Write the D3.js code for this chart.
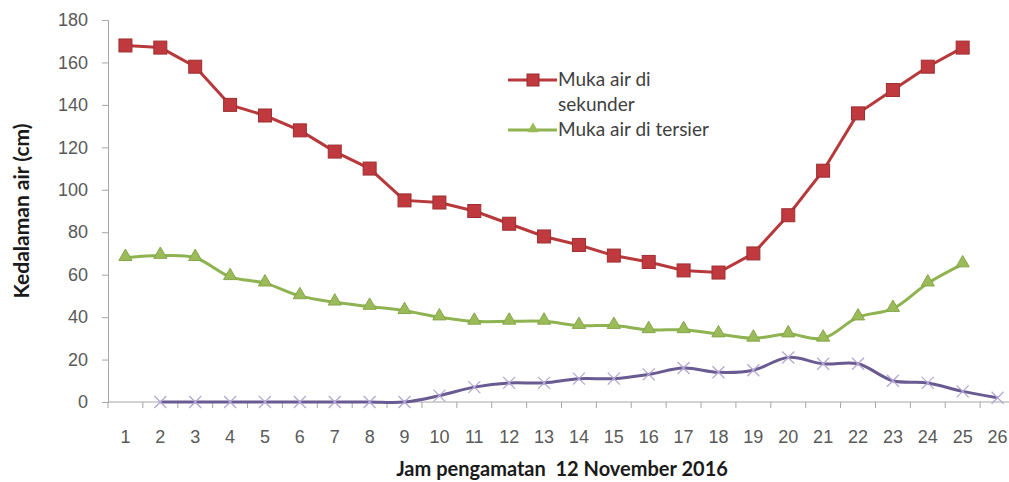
<!DOCTYPE html>
<html>
<head>
<meta charset="utf-8">
<script src="https://cdn.jsdelivr.net/npm/d3@7"></script>
<style>
body { margin: 0; background: #fff; }
svg { font-family: Lato, "Open Sans", sans-serif; }
</style>
</head>
<body>
<script>
'use strict';

var hours = d3.range(1, 27);
var sekunder = [168, 167, 158, 140, 135, 128, 118, 110, 95, 94, 90, 84, 78, 74, 69, 66, 62, 61, 70, 88, 109, 136, 147, 158, 167];
var tersier = [68, 69, 68, 59, 56, 50, 47, 45, 43, 40, 38, 38, 38, 36, 36, 34, 34, 32, 30, 32, 30, 40, 44, 56, 65];
// third series starts at hour 2
var ketiga = [null, 0, 0, 0, 0, 0, 0, 0, 0, 3, 7, 9, 9, 11, 11, 13, 16, 14, 15, 21, 18, 18, 10, 9, 5, 2];
var yTicks = [0, 20, 40, 60, 80, 100, 120, 140, 160, 180];

var W = 1009, H = 482;
var svg = d3.select('body').append('svg').attr('width', W).attr('height', H);

var x = d3.scaleBand().domain(hours).range([108, 1015]);
var y = d3.scaleLinear().domain([0, 180]).range([402, 20]);
var cx = d => x(d) + x.bandwidth() / 2;

// axes
var yAxis = svg.append('g').attr('transform', 'translate(108,0)')
	.call(d3.axisLeft(y).tickValues(yTicks).tickSize(6).tickPadding(14));
var xAxis = svg.append('g').attr('transform', 'translate(0,402)')
	.call(d3.axisBottom(x).tickSize(0).tickPadding(28));
[yAxis, xAxis].forEach(function(a) {
	a.select('.domain').attr('stroke', '#a6a6a6');
	a.selectAll('line').attr('stroke', '#a6a6a6');
	a.selectAll('text').attr('fill', '#595959').style('font-size', '18px');
});
xAxis.select('.domain').attr('d', 'M108,0H1015');
// x tick marks between categories
xAxis.selectAll('.sep').data(d3.range(0, 27))
	.enter().append('line')
	.attr('x1', i => 108 + i * x.step()).attr('x2', i => 108 + i * x.step())
	.attr('y1', 0).attr('y2', 6).attr('stroke', '#a6a6a6');

// axis titles
svg.append('text').attr('transform', 'translate(29,211) rotate(-90)')
	.attr('text-anchor', 'middle').style('font-size', '21px').style('font-weight', 'bold')
	.attr('fill', '#1a1a1a').text('Kedalaman air (cm)');
svg.append('text').attr('x', 562).attr('y', 476).attr('text-anchor', 'middle')
	.style('font-size', '20px').style('font-weight', 'bold').style('white-space', 'pre')
	.attr('fill', '#1a1a1a').text('Jam pengamatan  12 November 2016');

// lines
var redPts = sekunder.map((v, i) => [cx(hours[i]), y(v)]);
var greenPts = tersier.map((v, i) => [cx(hours[i]), y(v)]);
var purplePts = ketiga.map((v, i) => v === null ? null : [cx(hours[i]), y(v)]).filter(p => p);

svg.append('path').attr('d', d3.line().curve(d3.curveCatmullRom.alpha(0.5))(purplePts))
	.attr('fill', 'none').attr('stroke', '#6a5a92').attr('stroke-width', 3);
purplePts.forEach(function(p) {
	svg.append('path').attr('d', 'M-6,-6L6,6M-6,6L6,-6')
		.attr('transform', 'translate(' + p[0] + ',' + p[1] + ')')
		.attr('stroke', '#b3a8d6').attr('stroke-width', 1.3).attr('fill', 'none');
});

svg.append('path').attr('d', d3.line().curve(d3.curveCatmullRom.alpha(0.5))(greenPts))
	.attr('fill', 'none').attr('stroke', '#8eb350').attr('stroke-width', 3);
svg.selectAll('.tri').data(greenPts).enter().append('path')
	.attr('d', d3.symbol().type(d3.symbolTriangle).size(75))
	.attr('transform', d => 'translate(' + d[0] + ',' + (d[1] - 1) + ')')
	.attr('fill', '#9bbb59').attr('stroke', '#86a64a').attr('stroke-width', 1);

svg.append('path').attr('d', d3.line()(redPts))
	.attr('fill', 'none').attr('stroke', '#b8393b').attr('stroke-width', 3);
svg.selectAll('.sq').data(redPts).enter().append('rect')
	.attr('x', d => d[0] - 6.5).attr('y', d => d[1] - 6.5)
	.attr('width', 13).attr('height', 13)
	.attr('fill', '#c0393e').attr('stroke', '#9c2f31').attr('stroke-width', 1);

// legend
var leg = svg.append('g');
leg.append('line').attr('x1', 508).attr('x2', 557).attr('y1', 80).attr('y2', 80)
	.attr('stroke', '#b8393b').attr('stroke-width', 3);
leg.append('rect').attr('x', 527).attr('y', 74).attr('width', 12).attr('height', 12)
	.attr('fill', '#c0393e').attr('stroke', '#9c2f31');
leg.append('line').attr('x1', 508).attr('x2', 557).attr('y1', 130).attr('y2', 130)
	.attr('stroke', '#8eb350').attr('stroke-width', 3);
leg.append('path').attr('d', d3.symbol().type(d3.symbolTriangle).size(55))
	.attr('transform', 'translate(533,129)').attr('fill', '#9bbb59');
var lt = leg.append('g').attr('fill', '#404040').style('font-size', '19px');
lt.append('text').attr('x', 558).attr('y', 86).text('Muka air di');
lt.append('text').attr('x', 558).attr('y', 111).text('sekunder');
lt.append('text').attr('x', 558).attr('y', 136).text('Muka air di tersier');
</script>
</body>
</html>
